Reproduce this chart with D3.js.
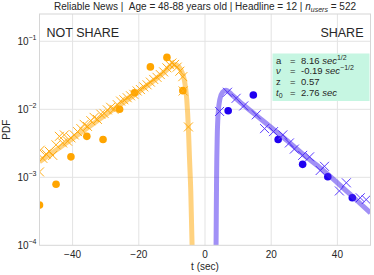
<!DOCTYPE html>
<html>
<head>
<meta charset="utf-8">
<script src="https://cdn.jsdelivr.net/npm/d3@7"></script>
<style>
  body { margin: 0; background: #fff; }
  svg text { font-family: "Liberation Sans", Arial, sans-serif; fill: #262626; white-space: pre; }
</style>
</head>
<body>
<div id="chart"></div>
<script>
// fitted curve (not share)
var notShareFitT = [-50, -40, -30, -20, -15, -12, -10, -9, -8, -7, -6.2, -5.5, -5.0, -4.7, -4.3, -3.9, -3.7];
var notShareFitV = [1.7e-3, 3.72e-3, 8.3e-3, 0.0182, 0.0275, 0.0363, 0.0437, 0.0457, 0.0427, 0.0355, 0.0263, 0.0138, 5.0e-3, 2.0e-3, 6.3e-4, 1.0e-4, 2.5e-5];

// fitted curve (share)
var shareFitT = [3.3, 3.4, 3.5, 3.7, 4.0, 4.5, 5.3, 6.3, 8, 10, 15, 20, 25, 30, 35, 40, 45, 50];
var shareFitV = [5e-5, 2.5e-4, 1e-3, 4e-3, 8.9e-3, 0.0141, 0.0178, 0.0191, 0.0166, 0.0135, 8.5e-3, 5.4e-3, 3.4e-3, 2.1e-3, 1.35e-3, 8.3e-4, 5.0e-4, 3.0e-4];

// empirical points (dots)
var notShareDotT = [-50, -45, -40.5, -35.7, -30.8, -25.8, -21.3, -16.5, -11.5, -6.7];
var notShareDotV = [3.9e-4, 7.9e-4, 2.0e-3, 4.0e-3, 3.6e-3, 1.0e-2, 0.0175, 0.042, 0.058, 0.0188];
var shareDotT = [7, 14.6, 22.1, 29.5, 37.1, 44.5];
var shareDotV = [9.5e-3, 0.0162, 3.6e-3, 1.55e-3, 1.02e-3, 5.0e-4];

// simulated points (crosses)
var notShareCrossT = [-50, -49.8, -49, -48, -47, -46, -45, -44, -43, -42.5, -41.5, -40.5, -39.5, -38.5, -37.5, -36.5, -35.5, -34.5, -33.5, -32.5, -31.5, -30.5, -29.5, -28.5, -27.5, -26.5, -25.5, -24.5, -23.5, -22.5, -21.5, -20.5, -19.5, -18.5, -17.5, -16.5, -15.5, -14.5, -13.5, -12.5, -11.5, -10.8, -10, -9.2, -8.4, -7.6, -6.7, -6.6, -5.0];
var notShareCrossV = [1.2e-3, 2.5e-3, 1.9e-3, 2.2e-3, 2.4e-3, 2.1e-3, 3.0e-3, 4.0e-3, 3.2e-3, 4.2e-3, 3.4e-3, 3.8e-3, 4.2e-3, 4.7e-3, 5.2e-3, 6.0e-3, 5.6e-3, 6.8e-3, 7.6e-3, 7.1e-3, 8.5e-3, 8.7e-3, 9.8e-3, 0.0107, 0.010, 0.0117, 0.0132, 0.0138, 0.0148, 0.0158, 0.0166, 0.0186, 0.0195, 0.0214, 0.0229, 0.0251, 0.0275, 0.0295, 0.0324, 0.0355, 0.0407, 0.0457, 0.0479, 0.0457, 0.0417, 0.0363, 0.0302, 0.0186, 5.5e-3];
var shareCrossT = [4.4, 6.8, 9.4, 11.7, 15.5, 18, 20.7, 23.5, 25.5, 27, 29.5, 31.6, 34.8, 36.1, 40.6, 42.7, 46.9, 48.7];
var shareCrossV = [9.3e-3, 0.0178, 0.0145, 0.0112, 8.3e-3, 5.2e-3, 4.7e-3, 4.2e-3, 3.2e-3, 2.6e-3, 2.1e-3, 2.0e-3, 1.26e-3, 1.45e-3, 6.3e-4, 8.3e-4, 5.0e-4, 4.7e-4];

var xTicks = [-40, -20, 0, 20, 40];
var yTicks = [1e-4, 1e-3, 1e-2, 1e-1];
var yTickExp = ["\u22124", "\u22123", "\u22122", "\u22121"];

var margin = {top: 14, right: 3.5, bottom: 29.7, left: 39.5},
    width = 374 - margin.left - margin.right,
    height = 275 - margin.top - margin.bottom;

var svg = d3.select("#chart").append("svg")
  .attr("width", 374)
  .attr("height", 275);

var g = svg.append("g")
  .attr("transform", "translate(" + margin.left + "," + margin.top + ")");

var x = d3.scaleLinear().domain([-50, 50]).range([0, width]);
var y = d3.scaleLog().domain([1e-4, 0.252]).range([height, 0]);

// grid
g.selectAll(".vgrid").data(xTicks).enter().append("line")
  .attr("x1", d => x(d)).attr("x2", d => x(d))
  .attr("y1", 0).attr("y2", height)
  .attr("stroke", "#e3e3e3").attr("stroke-width", 1);
g.selectAll(".hgrid").data(yTicks.slice(1)).enter().append("line")
  .attr("x1", 0).attr("x2", width)
  .attr("y1", d => y(d)).attr("y2", d => y(d))
  .attr("stroke", "#e3e3e3").attr("stroke-width", 1);

g.append("clipPath").attr("id", "clip")
  .append("rect").attr("width", width).attr("height", height);

var plot = g.append("g").attr("clip-path", "url(#clip)");

function zip(t, v) { return t.map((d, i) => [d, v[i]]); }

var line = d3.line()
  .x(d => x(d[0]))
  .y(d => y(d[1]))
  .curve(d3.curveMonotoneX);

function crosses(data, color) {
  var s = 4.5;
  plot.append("g").selectAll("path").data(data).enter().append("path")
    .attr("d", d => {
      var cx = x(d[0]), cy = y(d[1]);
      return "M" + (cx - s) + "," + (cy - s) + "L" + (cx + s) + "," + (cy + s) +
             "M" + (cx - s) + "," + (cy + s) + "L" + (cx + s) + "," + (cy - s);
    })
    .attr("stroke", color).attr("stroke-width", 1).attr("fill", "none");
}

function dots(data, color) {
  plot.append("g").selectAll("circle").data(data).enter().append("circle")
    .attr("cx", d => x(d[0])).attr("cy", d => y(d[1]))
    .attr("r", 3.8).attr("fill", color);
}

dots(zip(notShareDotT, notShareDotV), "#ffa500");
dots(zip(shareDotT, shareDotV), "#1f00f0");
crosses(zip(notShareCrossT, notShareCrossV), "#ffae1a");
crosses(zip(shareCrossT, shareCrossV), "#5a3cff");

plot.append("path").datum(zip(notShareFitT, notShareFitV))
  .attr("d", line).attr("fill", "none")
  .attr("stroke", "#ffa500").attr("stroke-opacity", 0.5).attr("stroke-width", 5);
plot.append("path").datum(zip(shareFitT, shareFitV))
  .attr("d", line).attr("fill", "none")
  .attr("stroke", "#4422ee").attr("stroke-opacity", 0.5).attr("stroke-width", 5);

// frame
g.append("rect").attr("width", width).attr("height", height)
  .attr("fill", "none").attr("stroke", "#d6d6d6").attr("stroke-width", 1);

// x tick labels
g.selectAll(".xt").data(xTicks).enter().append("text")
  .attr("x", d => x(d)).attr("y", height + 13)
  .attr("text-anchor", "middle").attr("font-size", 10)
  .text(d => d < 0 ? "\u2212" + Math.abs(d) : d);

// y tick labels
var yt = g.selectAll(".yt").data(yTicks).enter().append("text")
  .attr("x", -3).attr("y", d => y(d) + 4)
  .attr("text-anchor", "end").attr("font-size", 10);
yt.append("tspan").text("10");
yt.append("tspan").attr("dy", -5).attr("font-size", 7).text((d, i) => yTickExp[i]);

// axis labels
svg.append("text").attr("x", margin.left + width / 2).attr("y", 270)
  .attr("text-anchor", "middle").attr("font-size", 10).text("t (sec)");
svg.append("text").attr("transform", "translate(10," + (margin.top + height / 2) + ") rotate(-90)")
  .attr("text-anchor", "middle").attr("font-size", 10).text("PDF");

// title
var title = svg.append("text").attr("x", margin.left + width / 2).attr("y", 10)
  .attr("text-anchor", "middle").attr("font-size", 10);
title.append("tspan").text("Reliable News |\u00a0\u00a0Age = 48-88 years old | Headline = 12 | ");
title.append("tspan").attr("font-style", "italic").text("n");
title.append("tspan").attr("font-style", "italic").attr("font-size", 7).attr("dy", 2).text("users");
title.append("tspan").attr("dy", -2).text(" = 522");

// corner labels
svg.append("text").attr("x", 46.5).attr("y", 36.5).attr("font-size", 12.5).text("NOT SHARE");
svg.append("text").attr("x", 363.5).attr("y", 36.5).attr("text-anchor", "end")
  .attr("font-size", 12.5).text("SHARE");

// parameter box
svg.append("rect").attr("x", 272.5).attr("y", 53.5).attr("width", 97).attr("height", 47.5)
  .attr("fill", "#c6f6e2");

var box = svg.append("g").attr("font-size", 9.5);
function boxLine(yy, name, nameItalic, sub, val, unit, sup) {
  var t = box.append("text").attr("x", 276).attr("y", yy).attr("font-size", 9.5);
  t.append("tspan").attr("font-style", nameItalic ? "italic" : null).text(name);
  if (sub) t.append("tspan").attr("font-size", 7).attr("dy", 2).text(sub);
  t.append("tspan").attr("x", 290).attr("dy", sub ? -2 : 0).text("=");
  t.append("tspan").attr("x", 301).text(val);
  if (unit) t.append("tspan").attr("font-style", "italic").text(" " + unit);
  if (sup) t.append("tspan").attr("font-size", 7).attr("dy", -4).text(sup);
}
boxLine(63.5, "a", false, null, "8.16", "sec", "1/2");
boxLine(74, "\u03bd", true, null, "-0.19", "sec", "\u22121/2");
boxLine(85, "z", false, null, "0.57", null, null);
boxLine(96, "t", true, "0", "2.76", "sec", null);
</script>
</body>
</html>
